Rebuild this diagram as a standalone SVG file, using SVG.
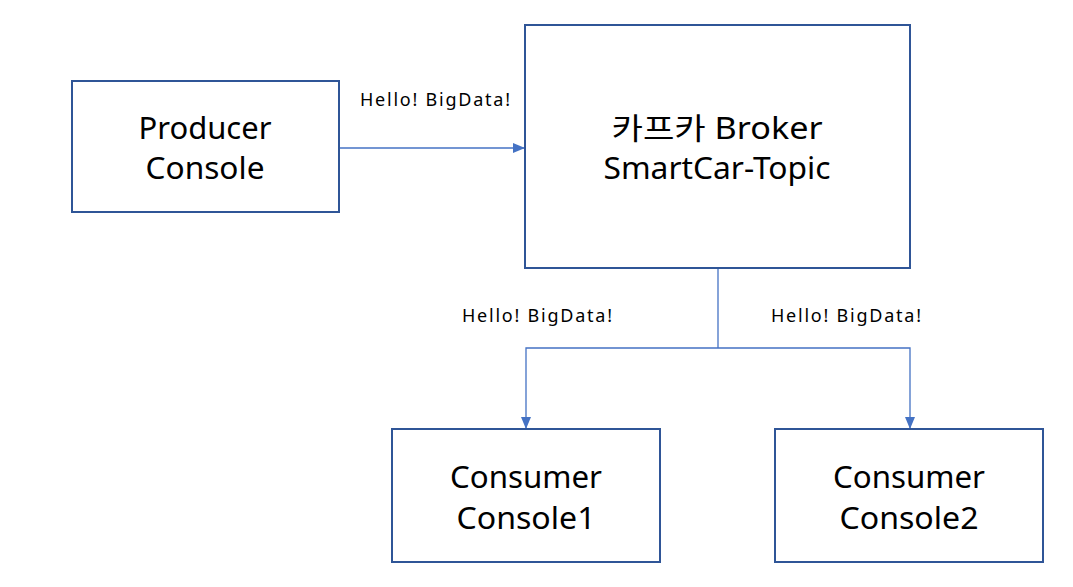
<svg xmlns="http://www.w3.org/2000/svg" width="1073" height="587" viewBox="0 0 1073 587">
<style>
.box{fill:#fff;stroke:#2F5597;stroke-width:2}
.t{font-family:"Noto Sans","Noto Sans CJK KR",sans-serif;font-size:30px;fill:#000;text-anchor:middle}
.l{font-family:"Noto Sans","Noto Sans CJK KR",sans-serif;font-size:18px;fill:#000;text-anchor:middle}
.c{fill:none;stroke:#4472C4;stroke-width:1.3}
</style>
<defs>
<marker id="a" markerWidth="12" markerHeight="10" refX="11" refY="5" orient="auto" markerUnits="userSpaceOnUse">
<path d="M0,0 L12,5 L0,10 Z" fill="#4472C4"/>
</marker>
</defs>
<rect width="1073" height="587" fill="#fff"/>
<g id="connectors">
<path class="c" d="M339,148 H524" marker-end="url(#a)"/>
<path class="c" d="M718,268 V348"/>
<path class="c" d="M718,348 H526 V428" marker-end="url(#a)"/>
<path class="c" d="M718,348 H910 V428" marker-end="url(#a)"/>
<text class="l" x="435" y="106" textLength="150" lengthAdjust="spacing">Hello! BigData!</text>
<text class="l" x="537" y="322" textLength="150" lengthAdjust="spacing">Hello! BigData!</text>
<text class="l" x="846" y="322" textLength="150" lengthAdjust="spacing">Hello! BigData!</text>
</g>
<g id="producer">
<rect class="box" x="72" y="81" width="267" height="131"/>
<text class="t" x="205" y="139" textLength="133" lengthAdjust="spacingAndGlyphs">Producer</text>
<text class="t" x="205" y="179" textLength="119" lengthAdjust="spacingAndGlyphs">Console</text>
</g>
<g id="broker">
<rect class="box" x="525" y="25" width="385" height="243"/>
<text class="t" x="717" y="139" textLength="211" lengthAdjust="spacingAndGlyphs">카프카 Broker</text>
<text class="t" x="717" y="179" textLength="227" lengthAdjust="spacingAndGlyphs">SmartCar-Topic</text>
</g>
<g id="consumer1">
<rect class="box" x="392" y="429" width="268" height="133"/>
<text class="t" x="526" y="488" textLength="152" lengthAdjust="spacingAndGlyphs">Consumer</text>
<text class="t" x="526" y="529" textLength="139" lengthAdjust="spacingAndGlyphs">Console1</text>
</g>
<g id="consumer2">
<rect class="box" x="775" y="429" width="268" height="133"/>
<text class="t" x="909" y="488" textLength="152" lengthAdjust="spacingAndGlyphs">Consumer</text>
<text class="t" x="909" y="529" textLength="139" lengthAdjust="spacingAndGlyphs">Console2</text>
</g>
</svg>
